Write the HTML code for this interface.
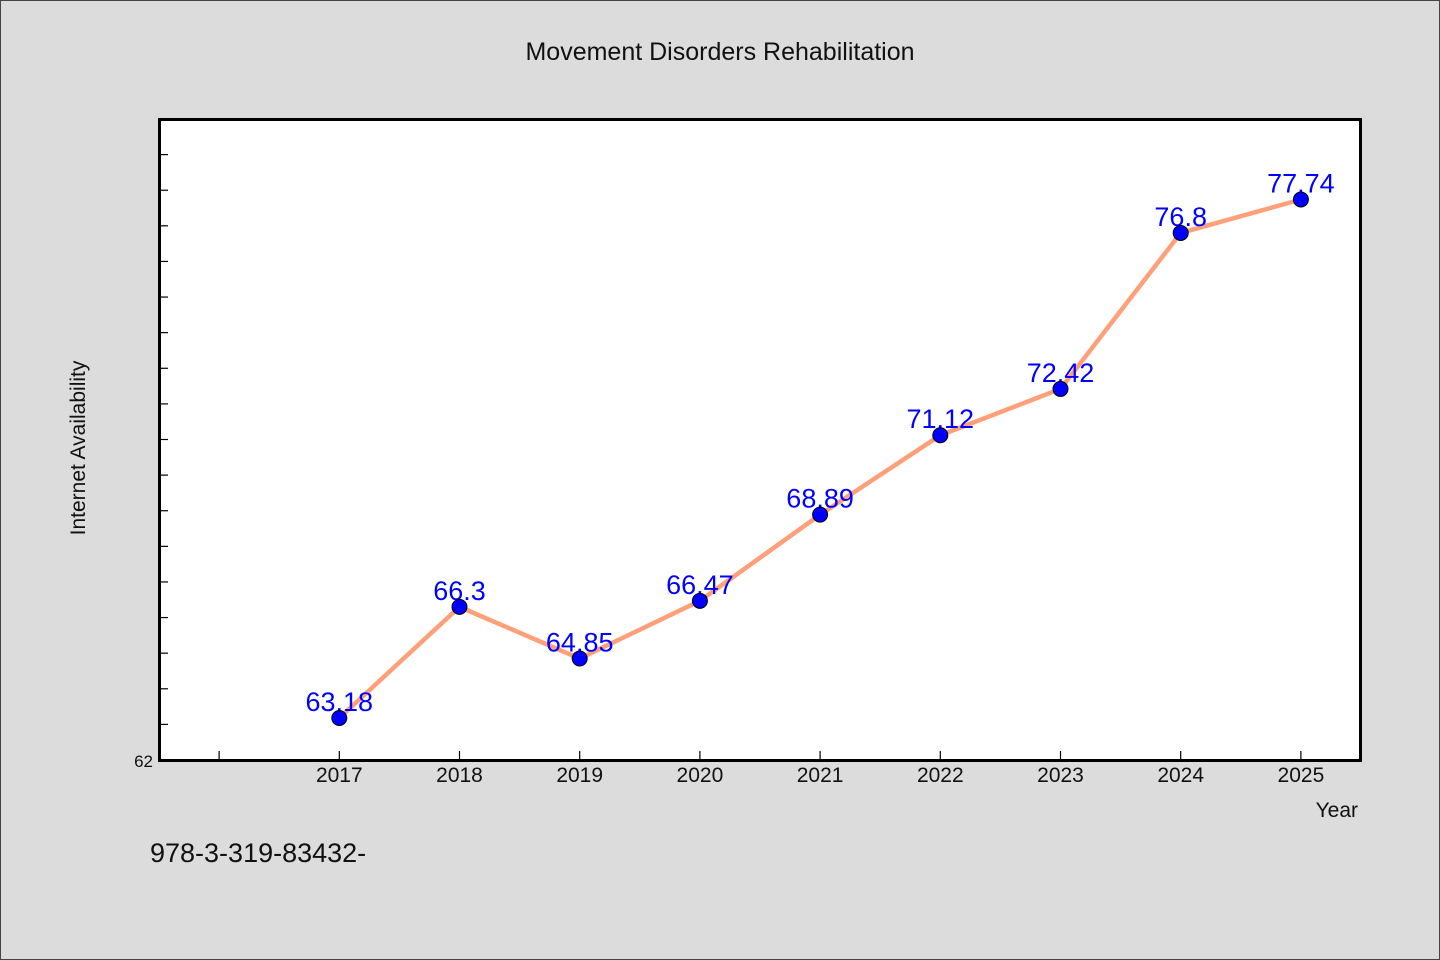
<!DOCTYPE html>
<html><head><meta charset="utf-8"><style>
html,body{margin:0;padding:0}
body{width:1440px;height:960px;background:#dcdcdc;overflow:hidden;font-family:"WenQuanYi Zen Hei","Liberation Sans",sans-serif}
svg{display:block}
</style></head><body>
<svg width="1440" height="960" id="chart">
<rect x="0.5" y="0.5" width="1439" height="959" fill="#dcdcdc" stroke="#444"/>
<text x="720" y="60" text-anchor="middle" font-size="25" fill="#111">Movement Disorders Rehabilitation</text>
<rect x="159.5" y="119.5" width="1201" height="641" fill="#fff" stroke="#000" stroke-width="3"/>
<text transform="translate(85,448) rotate(-90)" text-anchor="middle" font-size="21" fill="#111">Internet Availability</text>
<text x="1358" y="817" text-anchor="end" font-size="21" fill="#111">Year</text>
<text x="150" y="862" font-size="27" fill="#111">978-3-319-83432-</text>
<g id="ticks"></g><g id="series"></g>
</svg>
<script>
const categories=[2017,2018,2019,2020,2021,2022,2023,2024,2025];
const values=[63.18,66.3,64.85,66.47,68.89,71.12,72.42,76.8,77.74];
const labels=["63.18","66.3","64.85","66.47","68.89","71.12","72.42","76.8","77.74"];
const yMin=62,yMax=80,xMin=2015.5,xMax=2025.5;
const L=159,R=1361,T=119,B=760;
const xs=v=>L+(v-xMin)/(xMax-xMin)*(R-L);
const ys=v=>B-(v-yMin)/(yMax-yMin)*(B-T);
const NS="http://www.w3.org/2000/svg";
function mk(tag,at,parent){const e=document.createElementNS(NS,tag);for(const k in at)e.setAttribute(k,at[k]);parent.appendChild(e);return e;}
const tg=document.getElementById('ticks'),sg=document.getElementById('series');
for(let v=yMin+1;v<yMax;v++){const t=mk('line',{x1:L,x2:L+9,y1:ys(v),y2:ys(v),stroke:'#000','stroke-width':1.2},tg);

}
const yl=mk('text',{x:153,y:B+7,'text-anchor':'end','font-size':17,fill:'#111'},tg);yl.textContent=String(yMin);


const xt=[2016].concat(categories);
xt.forEach(c=>{const t=mk('line',{x1:xs(c),x2:xs(c),y1:B,y2:B-9,stroke:'#000','stroke-width':1.2},tg);

});
categories.forEach(c=>{const t=mk('text',{x:xs(c),y:B+22,'text-anchor':'middle','font-size':21,fill:'#111'},tg);t.textContent=c;

});
const pl=mk('polyline',{points:categories.map((c,i)=>xs(c)+','+ys(values[i])).join(' '),fill:'none',stroke:'#ffa07a','stroke-width':4.5,'stroke-linejoin':'round'},sg);


categories.forEach((c,i)=>{const t=mk('text',{x:xs(c),y:ys(values[i])-7,'text-anchor':'middle','font-size':27,fill:'#0000ff'},sg);t.textContent=labels[i];

});
categories.forEach((c,i)=>{const p=mk('circle',{cx:xs(c),cy:ys(values[i]),r:7.5,fill:'#0000ff',stroke:'#000','stroke-width':1},sg);

});
</script>
</body></html>
